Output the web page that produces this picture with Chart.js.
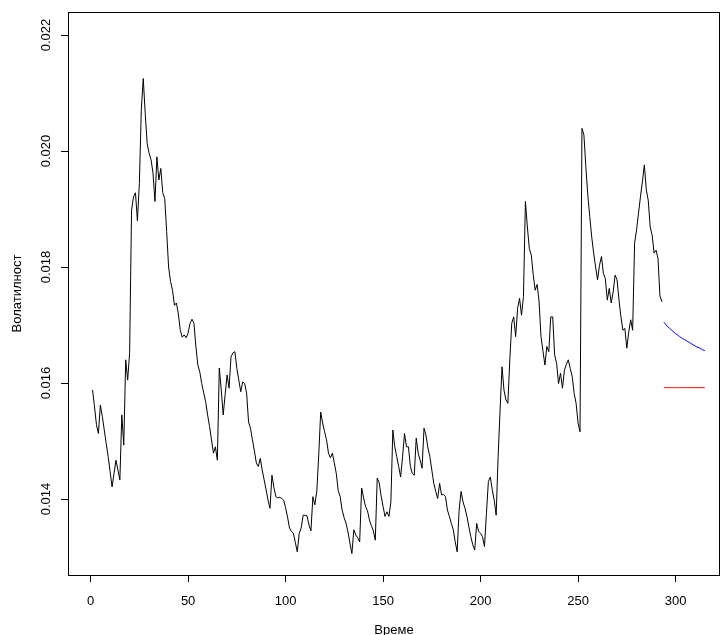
<!DOCTYPE html>
<html>
<head>
<meta charset="utf-8">
<title>Волатилност</title>
<script src="https://cdn.jsdelivr.net/npm/chart.js@4.4.1/dist/chart.umd.min.js"></script>
<style>
  html, body { margin: 0; padding: 0; background: #fff; }
  canvas { display: block; }
</style>
</head>
<body>
<canvas id="volChart" width="721" height="635"></canvas>
<script>
// observed volatility, t = 1..293
const volatility = [
  0.01588, 0.01559, 0.01528, 0.01513, 0.01562, 0.01542, 0.01519, 0.01496, 0.01473, 0.01447,
  0.01421, 0.01444, 0.01467, 0.01450, 0.01433, 0.01545, 0.01493, 0.01640, 0.01605, 0.01652,
  0.01898, 0.01921, 0.01928, 0.01880, 0.01944, 0.02071, 0.02125, 0.02065, 0.02013, 0.01996,
  0.01985, 0.01962, 0.01913, 0.01990, 0.01950, 0.01970, 0.01928, 0.01918, 0.01861, 0.01800,
  0.01775, 0.01760, 0.01734, 0.01738, 0.01719, 0.01691, 0.01679, 0.01683, 0.01678, 0.01686,
  0.01703, 0.01710, 0.01703, 0.01663, 0.01631, 0.01619, 0.01599, 0.01583, 0.01568, 0.01545,
  0.01525, 0.01502, 0.01479, 0.01490, 0.01467, 0.01626, 0.01588, 0.01545, 0.01580, 0.01614,
  0.01591, 0.01645, 0.01652, 0.01654, 0.01625, 0.01605, 0.01585, 0.01602, 0.01599, 0.01583,
  0.01533, 0.01522, 0.01502, 0.01483, 0.01462, 0.01456, 0.01470, 0.01450, 0.01433, 0.01416,
  0.01398, 0.01384, 0.01441, 0.01420, 0.01404, 0.01402, 0.01403, 0.01401, 0.01398, 0.01385,
  0.01369, 0.01350, 0.01344, 0.01341, 0.01325, 0.01309, 0.01341, 0.01350, 0.01372, 0.01372,
  0.01371, 0.01355, 0.01345, 0.01404, 0.01390, 0.01413, 0.01476, 0.01550, 0.01531, 0.01516,
  0.01502, 0.01479, 0.01471, 0.01479, 0.01462, 0.01444, 0.01414, 0.01404, 0.01381, 0.01368,
  0.01358, 0.01343, 0.01324, 0.01306, 0.01347, 0.01338, 0.01333, 0.01326, 0.01419, 0.01402,
  0.01387, 0.01380, 0.01364, 0.01354, 0.01345, 0.01329, 0.01436, 0.01428, 0.01405, 0.01387,
  0.01370, 0.01378, 0.01370, 0.01395, 0.01519, 0.01490, 0.01473, 0.01456, 0.01438, 0.01473,
  0.01513, 0.01490, 0.01490, 0.01456, 0.01444, 0.01441, 0.01505, 0.01479, 0.01467, 0.01453,
  0.01522, 0.01510, 0.01488, 0.01473, 0.01450, 0.01427, 0.01413, 0.01401, 0.01427, 0.01407,
  0.01408, 0.01404, 0.01381, 0.01370, 0.01358, 0.01347, 0.01326, 0.01309, 0.01381, 0.01413,
  0.01395, 0.01384, 0.01370, 0.01352, 0.01335, 0.01321, 0.01312, 0.01358, 0.01344, 0.01341,
  0.01335, 0.01318, 0.01375, 0.01430, 0.01438, 0.01416, 0.01398, 0.01372, 0.01473, 0.01553,
  0.01628, 0.01588, 0.01571, 0.01565, 0.01640, 0.01703, 0.01714, 0.01680, 0.01729, 0.01746,
  0.01717, 0.01749, 0.01913, 0.01869, 0.01832, 0.01821, 0.01787, 0.01760, 0.01770, 0.01741,
  0.01680, 0.01655, 0.01631, 0.01663, 0.01654, 0.01714, 0.01714, 0.01648, 0.01634, 0.01599,
  0.01617, 0.01591, 0.01622, 0.01632, 0.01640, 0.01625, 0.01611, 0.01582, 0.01565, 0.01531,
  0.01516, 0.02039, 0.02028, 0.01973, 0.01924, 0.01887, 0.01852, 0.01824, 0.01800, 0.01778,
  0.01803, 0.01818, 0.01789, 0.01780, 0.01743, 0.01763, 0.01738, 0.01757, 0.01786, 0.01778,
  0.01743, 0.01714, 0.01691, 0.01694, 0.01660, 0.01688, 0.01709, 0.01691, 0.01841, 0.01864,
  0.01893, 0.01921, 0.01947, 0.01976, 0.01933, 0.01915, 0.01869, 0.01855, 0.01824, 0.01829,
  0.01815, 0.01750, 0.01740
];

// forecasts, t = 294..315
const forecastStart = 294;
const forecastBlue = [
  0.01705, 0.01701, 0.01697, 0.01694, 0.01691, 0.01688, 0.01685, 0.01683, 0.01680, 0.01678,
  0.01676, 0.01674, 0.01672, 0.01670, 0.01668, 0.01666, 0.01664, 0.01662, 0.01661, 0.01659,
  0.01657, 0.01656
];
const forecastRed = [
  0.01592, 0.01592, 0.01592, 0.01592, 0.01592, 0.01592, 0.01592, 0.01592, 0.01592, 0.01592,
  0.01592, 0.01592, 0.01592, 0.01592, 0.01592, 0.01592, 0.01592, 0.01592, 0.01592, 0.01592,
  0.01592, 0.01592
];

const xTicks = [0, 50, 100, 150, 200, 250, 300];
const yTicks = [0.014, 0.016, 0.018, 0.020, 0.022];
const yTickLabels = ["0.014", "0.016", "0.018", "0.020", "0.022"];
const xTitle = "Време";
const yTitle = "Волатилност";

const FONT = '13px "Liberation Sans", Arial, Helvetica, sans-serif';

function toPoints(arr, start) {
  return arr.map((v, i) => ({ x: start + i, y: v }));
}

// R-style frame, rotated y labels and axis titles
const rStyleText = {
  id: "rStyleText",
  afterDraw(chart) {
    const { ctx, chartArea, scales } = chart;
    ctx.save();
    ctx.strokeStyle = "#000";
    ctx.lineWidth = 1;
    ctx.strokeRect(
      Math.round(chartArea.left) + 0.5,
      Math.round(chartArea.top) + 0.5,
      Math.round(chartArea.right - chartArea.left) - 1,
      Math.round(chartArea.bottom - chartArea.top)
    );

    ctx.fillStyle = "#000";
    ctx.font = FONT;
    ctx.textAlign = "center";
    ctx.textBaseline = "middle";
    yTicks.forEach((v, i) => {
      const py = scales.y.getPixelForValue(v);
      ctx.save();
      ctx.translate(46, py);
      ctx.rotate(-Math.PI / 2);
      ctx.fillText(yTickLabels[i], 0, 0);
      ctx.restore();
    });

    ctx.save();
    ctx.translate(17, (chartArea.top + chartArea.bottom) / 2);
    ctx.rotate(-Math.PI / 2);
    ctx.fillText(yTitle, 0, 0);
    ctx.restore();

    ctx.fillText(xTitle, (chartArea.left + chartArea.right) / 2, 630);
    ctx.restore();
  }
};

new Chart(document.getElementById("volChart"), {
  type: "line",
  data: {
    datasets: [
      {
        data: toPoints(volatility, 1),
        borderColor: "#000000",
        borderWidth: 1,
        pointRadius: 0,
        tension: 0
      },
      {
        data: toPoints(forecastBlue, forecastStart),
        borderColor: "#0000ff",
        borderWidth: 1,
        pointRadius: 0,
        tension: 0
      },
      {
        data: toPoints(forecastRed, forecastStart),
        borderColor: "#ff0000",
        borderWidth: 1,
        pointRadius: 0,
        tension: 0
      }
    ]
  },
  options: {
    responsive: false,
    animation: false,
    layout: { padding: { top: 12, right: 1, left: 0, bottom: 0 } },
    plugins: {
      legend: { display: false },
      tooltip: { enabled: false }
    },
    scales: {
      x: {
        type: "linear",
        min: -11.6,
        max: 322.8,
        afterBuildTicks: (scale) => {
          scale.ticks = xTicks.map((v) => ({ value: v }));
        },
        afterFit: (scale) => {
          scale.height = 60;
        },
        grid: {
          drawOnChartArea: false,
          drawTicks: true,
          tickLength: 7,
          color: "#000"
        },
        border: { display: false },
        ticks: {
          color: "#000",
          font: { family: '"Liberation Sans", Arial, sans-serif', size: 13 },
          padding: 12,
          maxRotation: 0,
          autoSkip: false
        }
      },
      y: {
        type: "linear",
        min: 0.01269,
        max: 0.022397,
        afterBuildTicks: (scale) => {
          scale.ticks = yTicks.map((v) => ({ value: v }));
        },
        afterFit: (scale) => {
          scale.width = 68;
        },
        grid: {
          drawOnChartArea: false,
          drawTicks: true,
          tickLength: 7,
          color: "#000"
        },
        border: { display: false },
        ticks: { display: false }
      }
    }
  },
  plugins: [rStyleText]
});
</script>
</body>
</html>
